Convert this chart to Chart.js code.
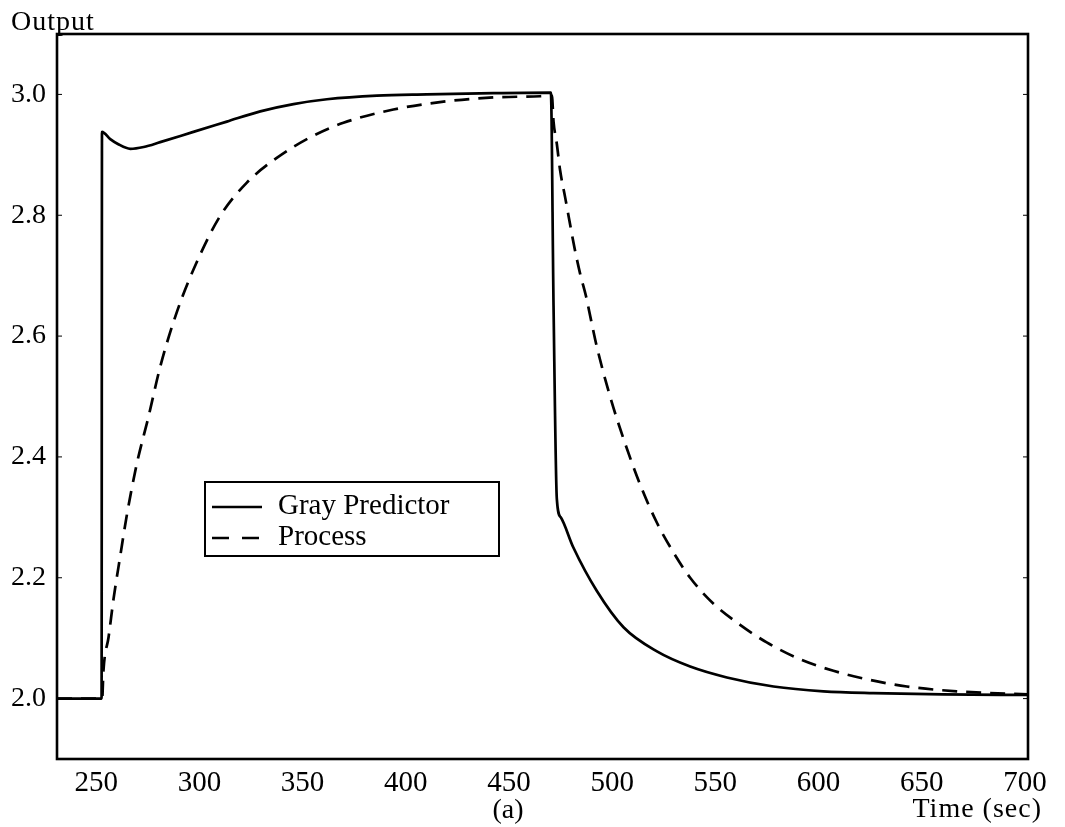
<!DOCTYPE html>
<html><head><meta charset="utf-8">
<script src="https://cdn.jsdelivr.net/npm/chart.js@4.4.1/dist/chart.umd.min.js"></script>
<style>html,body{margin:0;padding:0;background:#fff;}#wrap{width:1065px;height:827px;}</style>
</head><body><div id="wrap"><canvas id="c" width="1065" height="827"></canvas></div>
<script>
const xTicks = [250, 300, 350, 400, 450, 500, 550, 600, 650, 700];
const yTicks = [2.0, 2.2, 2.4, 2.6, 2.8, 3.0];
const seriesNames = ['Gray Predictor', 'Process'];
const yAxisTitle = 'Output';
const xAxisTitle = 'Time (sec)';
const panelLabel = '(a)';

const grayTime  = [231, 252.6, 252.8, 256.8, 260.5, 266.5, 273, 281, 297.1, 313.3, 329.5, 345.6, 361.8, 386, 410.2, 442.5, 470.3, 471.6, 473.2, 475.1, 481.2, 492.6, 505.5, 521.7, 537.8, 555.6, 578.2, 602.4, 626.5, 660, 702];
const grayValue = [2.0, 2.0, 2.938, 2.926, 2.918, 2.91, 2.913, 2.921, 2.938, 2.955, 2.972, 2.984, 2.992, 2.998, 3.0, 3.002, 3.003, 2.65, 2.33, 2.30, 2.25, 2.178, 2.118, 2.078, 2.053, 2.035, 2.02, 2.012, 2.009, 2.007, 2.006];

const processTime  = [231, 252.9, 253.5, 256, 258.4, 261.6, 264.9, 269.7, 275.3, 281, 289.1, 298.8, 310.1, 323, 337.5, 353.7, 369.8, 394, 418.3, 442.5, 465.1, 470.8, 471.6, 473.2, 474.8, 477.2, 479.3, 481.7, 484.5, 487.4, 489.8, 492.6, 499, 505.5, 513.6, 521.7, 529.7, 537.8, 549.1, 562, 574.9, 591.1, 607.2, 623.4, 642.8, 667, 702];
const processValue = [2.0, 2.0, 2.046, 2.102, 2.165, 2.235, 2.305, 2.389, 2.466, 2.549, 2.64, 2.723, 2.799, 2.854, 2.895, 2.929, 2.953, 2.975, 2.988, 2.995, 2.997, 2.998, 2.955, 2.918, 2.874, 2.83, 2.791, 2.747, 2.703, 2.665, 2.626, 2.582, 2.50, 2.43, 2.354, 2.291, 2.242, 2.2, 2.157, 2.122, 2.093, 2.065, 2.046, 2.032, 2.02, 2.012, 2.007];

const FONT = 'Liberation Serif, Times New Roman, serif';
const toPts = (xs, ys) => xs.map((x, i) => ({x: x, y: ys[i]}));
const DASH = [15, 9];

const decor = {
  id: 'decor',
  afterDatasetsDraw(chart) {
    const ctx = chart.ctx, a = chart.chartArea;
    const ys = chart.scales.y;
    ctx.save();
    ctx.strokeStyle = '#000';
    ctx.lineWidth = 2.6;
    ctx.strokeRect(a.left, a.top, a.right - a.left, a.bottom - a.top);
    ctx.lineWidth = 1;
    yTicks.forEach(v => {
      const y = ys.getPixelForValue(v);
      ctx.beginPath(); ctx.moveTo(a.left, y); ctx.lineTo(a.left + 5, y); ctx.stroke();
      ctx.beginPath(); ctx.moveTo(a.right, y); ctx.lineTo(a.right - 5, y); ctx.stroke();
    });
    // legend box
    const L = {l: 205, t: 482, r: 499, b: 556};
    ctx.fillStyle = '#fff';
    ctx.fillRect(L.l, L.t, L.r - L.l, L.b - L.t);
    ctx.lineWidth = 2;
    ctx.strokeRect(L.l, L.t, L.r - L.l, L.b - L.t);
    ctx.lineWidth = 2.5;
    ctx.beginPath(); ctx.moveTo(212, 507); ctx.lineTo(262, 507); ctx.stroke();
    ctx.setLineDash([17, 13]);
    ctx.beginPath(); ctx.moveTo(212, 538); ctx.lineTo(262, 538); ctx.stroke();
    ctx.setLineDash([]);
    ctx.fillStyle = '#000';
    ctx.font = '29px ' + FONT;
    ctx.textBaseline = 'middle';
    ctx.textAlign = 'left';
    ctx.fillText(seriesNames[0], 278, 506);
    ctx.fillText(seriesNames[1], 278, 537);
    // titles
    ctx.font = '28px ' + FONT;
    ctx.textBaseline = 'alphabetic';
    try { ctx.letterSpacing = '1px'; } catch (e) {}
    ctx.fillText(yAxisTitle, 11, 30);
    ctx.textAlign = 'right';
    ctx.fillText(xAxisTitle, 1042, 817);
    try { ctx.letterSpacing = '0px'; } catch (e) {}
    ctx.textAlign = 'center';
    ctx.fillText(panelLabel, 508, 818);
    ctx.restore();
  }
};

new Chart(document.getElementById('c'), {
  type: 'line',
  data: {
    datasets: [
      {label: seriesNames[0], data: toPts(grayTime, grayValue), borderColor: '#000', borderWidth: 2.7, pointRadius: 0, cubicInterpolationMode: 'monotone', fill: false},
      {label: seriesNames[1], data: toPts(processTime, processValue), borderColor: '#000', borderWidth: 2.7, borderDash: DASH, pointRadius: 0, cubicInterpolationMode: 'monotone', fill: false}
    ]
  },
  options: {
    responsive: false,
    animation: false,
    devicePixelRatio: 1,
    layout: {padding: {top: 34, right: 37, left: 0, bottom: 0}},
    plugins: {legend: {display: false}, tooltip: {enabled: false}, title: {display: false}},
    scales: {
      x: {
        type: 'linear', min: 231, max: 701.5,
        afterBuildTicks: s => { s.ticks = xTicks.map(v => ({value: v})); },
        afterFit: s => { s.height = 68; },
        grid: {display: false, drawTicks: false},
        border: {display: false},
        ticks: {color: '#000', font: {family: FONT, size: 29}, padding: 7, maxRotation: 0, autoSkip: false, callback: v => String(v)}
      },
      y: {
        type: 'linear', min: 1.9, max: 3.1,
        afterBuildTicks: s => { s.ticks = yTicks.map(v => ({value: v})); },
        afterFit: s => { s.width = 57; },
        grid: {display: false, drawTicks: false},
        border: {display: false},
        ticks: {color: '#000', font: {family: FONT, size: 28}, padding: 11, autoSkip: false, callback: v => Number(v).toFixed(1)}
      }
    }
  },
  plugins: [decor]
});
</script>
</body></html>
